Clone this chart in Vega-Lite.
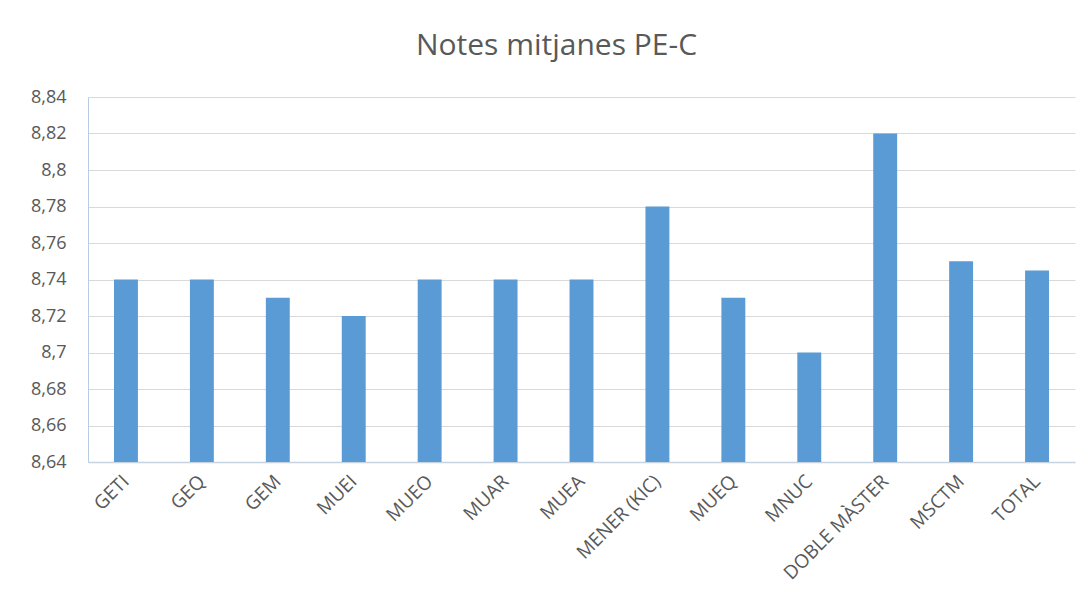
{
  "$schema": "https://vega.github.io/schema/vega-lite/v6.json",
  "autosize": {"type": "none"},
  "padding": {"left": 88, "top": 97, "right": 15, "bottom": 146},
  "width": 987,
  "height": 365,
  "background": "white",
  "title": {
    "text": "Notes mitjanes PE-C",
    "font": "Open Sans",
    "fontSize": 30,
    "fontWeight": "normal",
    "color": "#595959",
    "anchor": "middle",
    "dx": -25,
    "offset": 27
  },
  "data": {
    "values": [
      {"programa": "GETI", "nota": 8.74},
      {"programa": "GEQ", "nota": 8.74},
      {"programa": "GEM", "nota": 8.73},
      {"programa": "MUEI", "nota": 8.72},
      {"programa": "MUEO", "nota": 8.74},
      {"programa": "MUAR", "nota": 8.74},
      {"programa": "MUEA", "nota": 8.74},
      {"programa": "MENER (KIC)", "nota": 8.78},
      {"programa": "MUEQ", "nota": 8.73},
      {"programa": "MNUC", "nota": 8.70},
      {"programa": "DOBLE MÀSTER", "nota": 8.82},
      {"programa": "MSCTM", "nota": 8.75},
      {"programa": "TOTAL", "nota": 8.745}
    ]
  },
  "mark": {"type": "bar", "color": "#5b9bd5", "width": {"band": 0.315}},
  "encoding": {
    "x": {
      "field": "programa",
      "type": "nominal",
      "sort": null,
      "title": null,
      "scale": {"paddingInner": 0, "paddingOuter": 0},
      "axis": {
        "labelAngle": -45,
        "labelAlign": "right",
        "labelBaseline": "middle",
        "labelFont": "Open Sans",
        "labelFontSize": 19,
        "labelColor": "#595959",
        "labelPadding": 16,
        "ticks": false,
        "domainColor": "#c8d3e0",
        "domainWidth": 1.5,
        "grid": false
      }
    },
    "y": {
      "field": "nota",
      "type": "quantitative",
      "title": null,
      "scale": {"domain": [8.64, 8.84], "zero": false, "nice": false},
      "axis": {
        "values": [8.64, 8.66, 8.68, 8.7, 8.72, 8.74, 8.76, 8.78, 8.8, 8.82, 8.84],
        "labelExpr": "replace(format(datum.value, '~g'), '.', ',')",
        "labelFont": "Open Sans",
        "labelFontSize": 18,
        "labelColor": "#595959",
        "labelPadding": 22,
        "ticks": false,
        "domainColor": "#b8cde4",
        "gridColor": "#d9d9d9",
        "gridWidth": 1
      }
    },
    "y2": {"datum": 8.64}
  },
  "config": {"view": {"stroke": null}}
}
